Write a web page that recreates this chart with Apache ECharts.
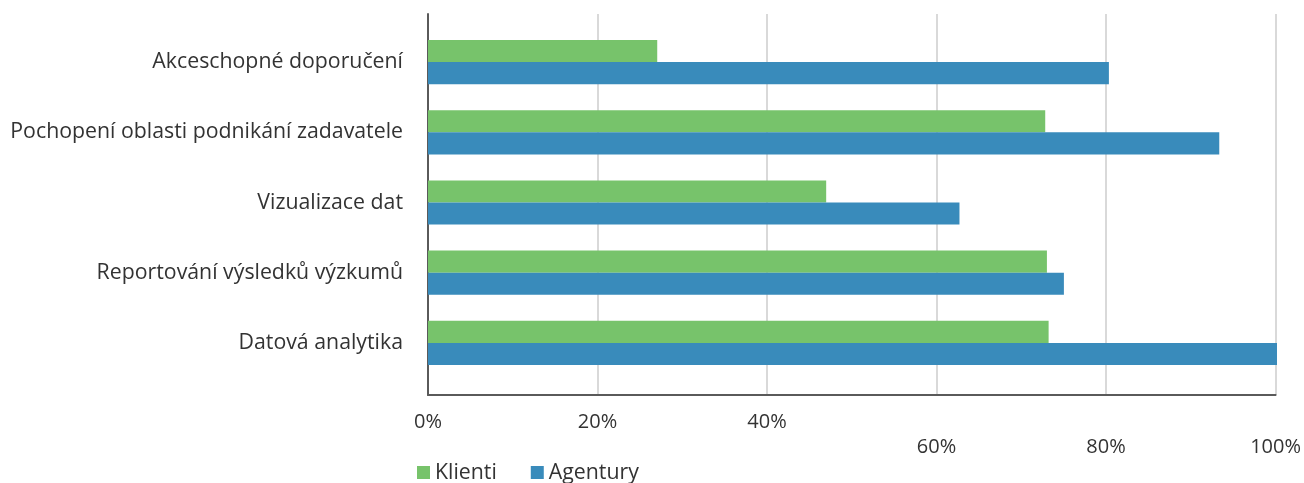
<!DOCTYPE html>
<html>
<head>
<meta charset="utf-8">
<script src="https://cdn.jsdelivr.net/npm/echarts@6/dist/echarts.min.js"></script>
<style>
  html, body { margin: 0; padding: 0; background: #fff; }
  #chart { width: 1304px; height: 483px; }
</style>
</head>
<body>
<div id="chart"></div>
<script>
// kategorie odshora dolů
const categories = [
  'Akceschopné doporučení',
  'Pochopení oblasti podnikání zadavatele',
  'Vizualizace dat',
  'Reportování výsledků výzkumů',
  'Datová analytika'
];
const klienti = [27, 72.7, 46.9, 72.9, 73.1];
const agentury = [80.2, 93.2, 62.6, 74.9, 100];
const xTicks = [0, 20, 40, 60, 80, 100];

const font = '"Open Sans", "Noto Sans", sans-serif';
const textColor = '#333333';

const myChart = echarts.init(document.getElementById('chart'));
myChart.setOption({
  animation: false,
  textStyle: { fontFamily: font },
  // grid 0: sloupce, grid 1: rám, mřížka a popisky osy x
  grid: [
    { left: 428, right: 27, top: 27, bottom: 105 },
    { left: 428, right: 27, top: 14, bottom: 88 }
  ],
  legend: {
    left: 412,
    top: 457,
    itemWidth: 13,
    itemHeight: 13,
    itemGap: 34,
    icon: 'rect',
    textStyle: { fontFamily: font, fontSize: 21.3, color: textColor },
    data: ['Klienti', 'Agentury']
  },
  xAxis: [
    {
      gridIndex: 0,
      type: 'value',
      min: xTicks[0],
      max: xTicks[xTicks.length - 1],
      interval: 20,
      show: false
    },
    {
      gridIndex: 1,
      type: 'value',
      min: xTicks[0],
      max: xTicks[xTicks.length - 1],
      interval: 20,
      axisLine: { show: true, lineStyle: { color: '#5a5a5a', width: 2 } },
      axisTick: { show: false },
      splitLine: { show: true, lineStyle: { color: '#d9d9d9', width: 2 } },
      axisLabel: {
        margin: 15,
        fontSize: 20,
        color: textColor,
        lineHeight: 25,
        formatter: function (v) {
          return v >= 60 ? '\n' + v + '%' : v + '%';
        }
      }
    }
  ],
  yAxis: [
    {
      gridIndex: 0,
      type: 'category',
      inverse: true,
      data: categories,
      axisLine: { show: false },
      axisTick: { show: false },
      axisLabel: { margin: 25, fontSize: 21.3, color: textColor }
    },
    {
      gridIndex: 1,
      type: 'category',
      inverse: true,
      data: categories,
      axisLine: { show: true, lineStyle: { color: '#5a5a5a', width: 2 } },
      axisTick: { show: false },
      axisLabel: { show: false }
    }
  ],
  series: [
    {
      name: 'Klienti',
      type: 'bar',
      xAxisIndex: 0,
      yAxisIndex: 0,
      data: klienti,
      barGap: '0%',
      barCategoryGap: '37%',
      itemStyle: { color: '#77c36b' }
    },
    {
      name: 'Agentury',
      type: 'bar',
      xAxisIndex: 0,
      yAxisIndex: 0,
      data: agentury,
      barGap: '0%',
      barCategoryGap: '37%',
      itemStyle: { color: '#398bbb' }
    }
  ]
});
</script>
</body>
</html>
